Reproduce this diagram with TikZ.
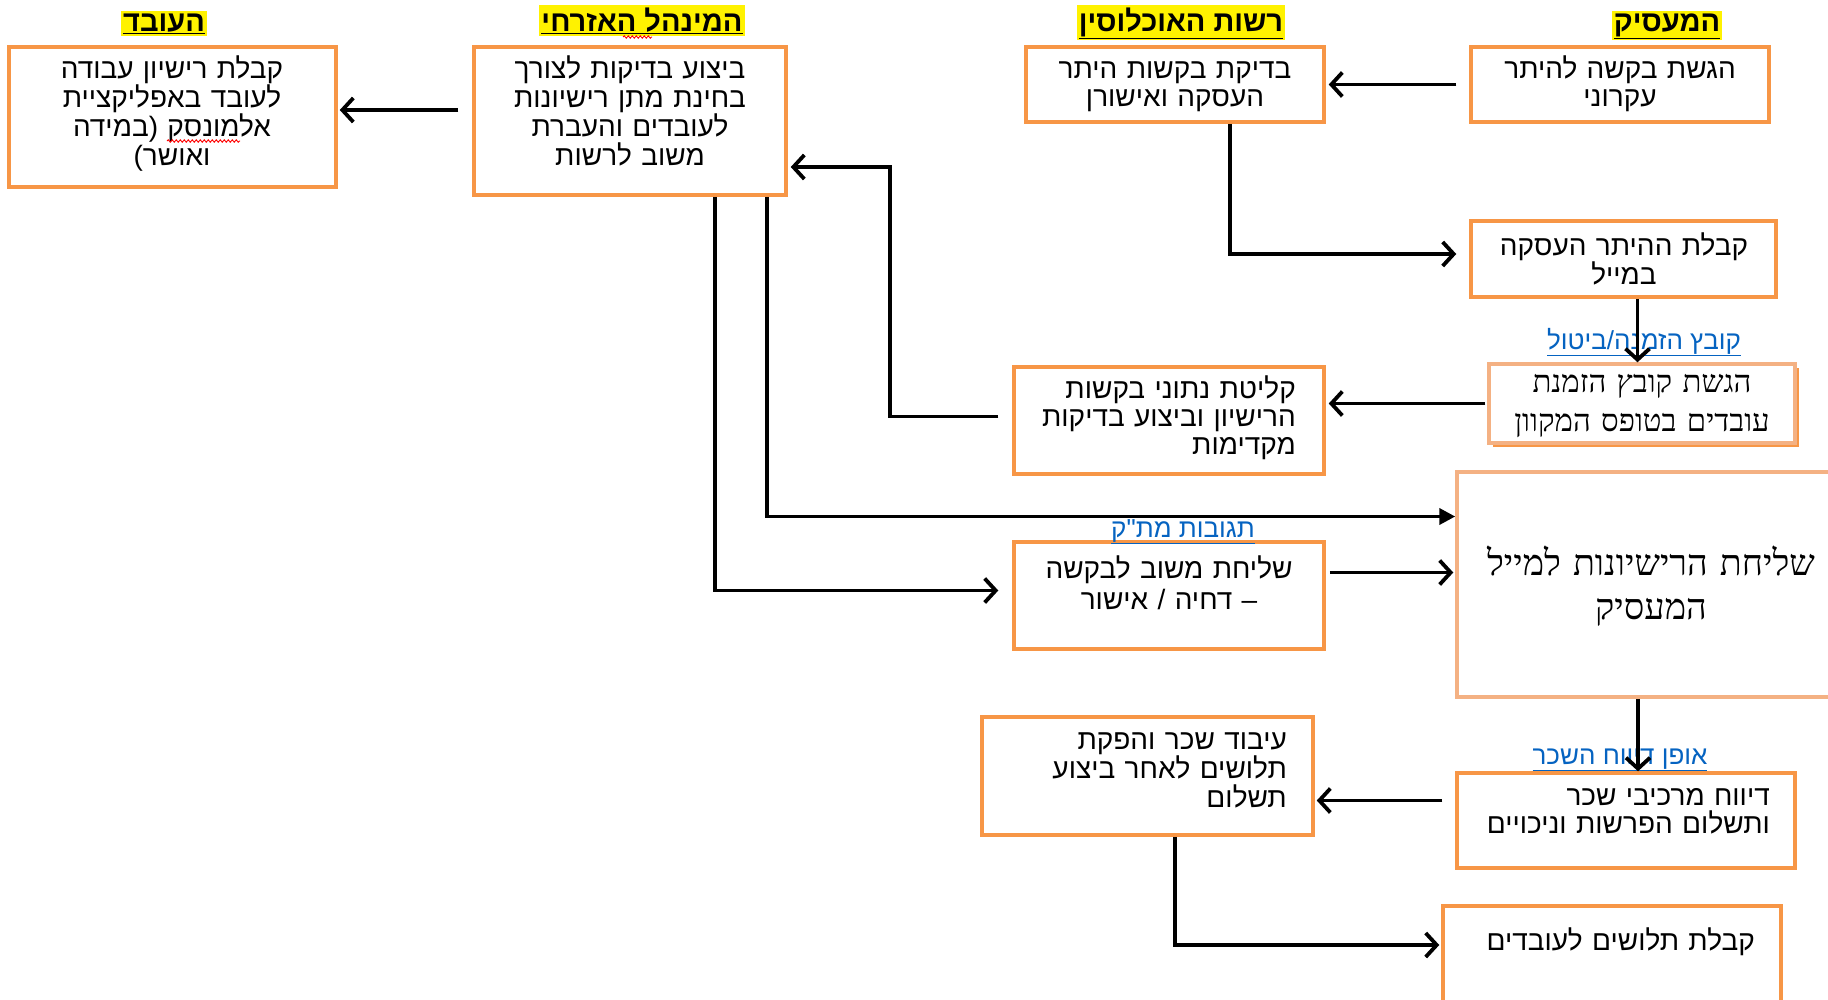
\documentclass[tikz,border=0pt]{standalone}
\usepackage{fontspec}
\setmainfont{Liberation Sans}[Script=Hebrew, Ligatures=TeXOff]
\newfontfamily\hebserif{Liberation Serif}[Script=Hebrew]
\TeXXeTstate=1
\usetikzlibrary{arrows.meta,shadows,decorations.pathmorphing}
\definecolor{boxorange}{HTML}{F79646}
\definecolor{paleorange}{HTML}{F4B183}
\definecolor{linkblue}{HTML}{0563C1}
\newcommand{\rl}[1]{\beginR #1\endR}
\newcommand{\hlink}[1]{\textcolor{linkblue}{\underline{\rl{#1}}}}
\tikzset{
  box/.style={draw=boxorange, line width=3.5pt, fill=white, inner sep=0pt},
  palebox/.style={box, draw=paleorange},
  txt/.style={inner sep=0pt, font=\fontsize{28}{29}\selectfont, align=center, anchor=base},
  rtxt/.style={txt, align=right, anchor=base east},
  head/.style={fill=yellow, inner sep=2pt, font=\bfseries\fontsize{29}{30}\selectfont, anchor=base},
  lnk/.style={inner sep=0pt, font=\fontsize{26}{28}\selectfont, anchor=base},
  arr/.style={line width=3.8pt, -{Straight Barb[length=11pt,width=24pt]}},
  farr/.style={line width=3.8pt, -{Triangle[length=16pt,width=16pt]}},
  squig/.style={red, line width=0.9pt, decorate, decoration={snake, amplitude=1.2pt, segment length=4pt}}
}
\begin{document}
\begin{tikzpicture}[x=1pt, y=-1pt]
  \useasboundingbox[fill=white] (0,0) rectangle (1828,999);

  % column heads
  \node[head] (hworker) at (164,31) {\underline{\rl{העובד}}};
  \node[head] (hadmin) at (642,31) {\underline{\rl{המינהל האזרחי}}};
  \node[head] (hpop) at (1181,31) {\underline{\rl{רשות האוכלוסין}}};
  \node[head] (hemp) at (1667,31) {\underline{\rl{המעסיק}}};
  \draw[squig] (623,37) -- (652,37);

  % boxes
  \node[box, minimum width=327, minimum height=140] (worker) at (172.5,117) {};
  \node[box, minimum width=312, minimum height=148] (admin) at (630,121) {};
  \node[box, minimum width=298, minimum height=75] (pop) at (1175,84.5) {};
  \node[box, minimum width=298, minimum height=75] (req) at (1620,84.5) {};
  \node[box, minimum width=305, minimum height=76] (permit) at (1623.5,259) {};
  \node[palebox, minimum width=306, minimum height=79,
        drop shadow={shadow xshift=4pt, shadow yshift=-4pt, fill=boxorange, opacity=1}] (file) at (1642,403.5) {};
  \node[box, minimum width=310, minimum height=107] (intake) at (1169,420.5) {};
  \node[palebox, minimum width=373, minimum height=225] (big) at (1643.5,584.5) {};
  \node[box, minimum width=310, minimum height=107] (resp) at (1169,595.5) {};
  \node[box, minimum width=331, minimum height=118] (pay) at (1147.5,776) {};
  \node[box, minimum width=338, minimum height=95] (report) at (1626,820.5) {};
  \node[box, minimum width=338, minimum height=104] (receipt) at (1612,958) {};

  % texts
  \node[txt, text width=310pt] (workertext) at (172,78)
    {\rl{קבלת רישיון עבודה}\\ \rl{לעובד באפליקציית}\\ \rl{אלמונסק \hbox{(}במידה}\\ \rl{ואושר\hbox{)}}};
  \draw[squig] (167,141) -- (240,141);
  \node[txt, text width=300pt] (admintext) at (630,78)
    {\rl{ביצוע בדיקות לצורך}\\ \rl{בחינת מתן רישיונות}\\ \rl{לעובדים והעברת}\\ \rl{משוב לרשות}};
  \node[txt, text width=290pt, font=\fontsize{28}{28}\selectfont] (poptext) at (1175,78)
    {\rl{בדיקת בקשות היתר}\\ \rl{העסקה ואישורן}};
  \node[txt, text width=290pt, font=\fontsize{28}{28}\selectfont] (reqtext) at (1620,78)
    {\rl{הגשת בקשה להיתר}\\ \rl{עקרוני}};
  \node[txt, text width=300pt] (permittext) at (1624,255)
    {\rl{קבלת ההיתר העסקה}\\ \rl{במייל}};
  \node[txt, text width=300pt, font=\hebserif\fontsize{31}{39}\selectfont] (filetext) at (1642,392)
    {\rl{הגשת קובץ הזמנת}\\ \rl{עובדים בטופס המקוון}};
  \node[rtxt, text width=300pt, font=\fontsize{28}{28}\selectfont] (intaketext) at (1296,398)
    {\rl{קליטת נתוני בקשות}\\ \rl{הרישיון וביצוע בדיקות}\\ \rl{מקדימות}};
  \node[txt, text width=370pt, font=\hebserif\fontsize{36}{44}\selectfont] (bigtext) at (1651,575)
    {\rl{שליחת הרישיונות למייל}\\ \rl{המעסיק}};
  \node[txt, text width=300pt, font=\fontsize{28}{31}\selectfont] (resptext) at (1169,578)
    {\rl{שליחת משוב לבקשה}\\ \rl{– דחיה / אישור}};
  \node[rtxt, text width=320pt] (paytext) at (1287,749)
    {\rl{עיבוד שכר והפקת}\\ \rl{תלושים לאחר ביצוע}\\ \rl{תשלום}};
  \node[rtxt, text width=330pt, font=\fontsize{28}{28}\selectfont] (reporttext) at (1770,805)
    {\rl{דיווח מרכיבי שכר}\\ \rl{ותשלום הפרשות וניכויים}};
  \node[rtxt, text width=330pt] (receipttext) at (1755,950)
    {\rl{קבלת תלושים לעובדים}};

  % link labels
  \node[lnk] (lfile) at (1644,349) {\hlink{קובץ הזמנה/ביטול}};
  \node[lnk] (lresp) at (1183,537) {\hlink{תגובות מת"ק}};
  \node[lnk] (lpay) at (1620,764) {\hlink{אופן דיווח השכר}};

  % connectors
  \draw[arr, shorten <=14pt, shorten >=2pt] ([yshift=11pt]admin.west) -- ([yshift=11pt]admin.west -| worker.east);
  \draw[arr, shorten <=13pt, shorten >=3pt] (req.west) -- (req.west -| pop.east);
  \draw[arr, shorten >=13pt] ([xshift=55pt]pop.south) |- ([yshift=5pt]permit.west);
  \draw[arr] ([xshift=14pt]permit.south) -- ([xshift=14pt]permit.south |- file.north);
  \draw[arr, shorten <=2pt, shorten >=3pt] (file.west) -- (file.west -| intake.east);
  \draw[arr, shorten <=14pt, shorten >=3pt] ([yshift=4pt]intake.west) -| ([xshift=102pt,yshift=-46pt]admin.east) -- ([yshift=-46pt]admin.east);
  \draw[farr] ([xshift=137pt]admin.south) |- ([yshift=68pt]big.west);
  \draw[arr, shorten >=14pt] ([xshift=85pt]admin.south) |- ([yshift=5pt]resp.west);
  \draw[arr, shorten <=4pt, shorten >=2pt] ([yshift=23pt]resp.east) -- ([yshift=23pt]resp.east -| big.west);
  \draw[arr] ([xshift=-5.5pt]big.south) -- ([xshift=-5.5pt]big.south |- report.north);
  \draw[arr, shorten <=13pt, shorten >=2pt] ([yshift=20pt]report.west) -- ([yshift=20pt]report.west -| pay.east);
  \draw[arr, shorten >=2pt] ([xshift=27.5pt]pay.south) |- ([yshift=13pt]receipt.west);
\end{tikzpicture}
\end{document}
